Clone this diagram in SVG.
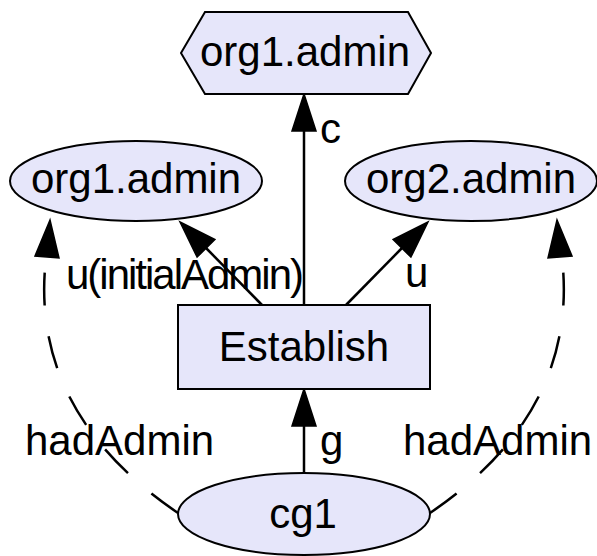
<svg xmlns="http://www.w3.org/2000/svg" width="597" height="556" viewBox="0 0 597 556">
  <style>
    .shape { fill: #e6e6fa; stroke: #000; stroke-width: 2; }
    .lbl { font-family: "Liberation Sans", Arial, Helvetica, sans-serif; font-size: 42px; fill: #000; }
    .mid { text-anchor: middle; }
    .edge { fill: none; stroke: #000; stroke-width: 2.5; }
    .dash { stroke-dasharray: 33 31; }
    .head { fill: #000; stroke: #000; stroke-width: 1.5; }
  </style>
  <rect width="597" height="556" fill="#fff"/>

  <g id="edges">
    <!-- c: Establish -> org1.admin (hexagon) -->
    <path class="edge" d="M304,305 L304,131"/>
    <polygon class="head" points="304,94 292,131 316,131"/>
    <text class="lbl" x="320" y="143">c</text>

    <!-- u(initialAdmin): Establish -> org1.admin -->
    <path class="edge" d="M262,305 L206,248"/>
    <polygon class="head" points="180,222 214.9,239.5 197.1,257.1"/>
    <text class="lbl" x="66" y="289" textLength="238" lengthAdjust="spacing">u(initialAdmin)</text>

    <!-- u: Establish -> org2.admin -->
    <path class="edge" d="M346,305 L402,248"/>
    <polygon class="head" points="428,222 393.1,239.5 410.9,257.1"/>
    <text class="lbl" x="405" y="287">u</text>

    <!-- g: cg1 -> Establish -->
    <path class="edge" d="M304,472 L304,426"/>
    <polygon class="head" points="304,389 292,426 316,426"/>
    <text class="lbl" x="320" y="455">g</text>

    <!-- hadAdmin: cg1 -> org1.admin -->
    <path class="edge dash" d="M178,513 C100,460 32,380 46,258"/>
    <polygon class="head" points="50,220 35,256 59,258"/>
    <text class="lbl" x="25" y="455">hadAdmin</text>

    <!-- hadAdmin: cg1 -> org2.admin -->
    <path class="edge dash" d="M430,513 C508,460 576,380 562,258"/>
    <polygon class="head" points="557,220 548,258 572,256"/>
    <text class="lbl" x="403" y="455">hadAdmin</text>
  </g>

  <g id="node-org1-admin-hex">
    <polygon class="shape" points="181,53 205,12 408,12 431,53 408,94 205,94"/>
    <text class="lbl mid" x="305" y="66">org1.admin</text>
  </g>

  <g id="node-org1-admin">
    <ellipse class="shape" cx="136" cy="181" rx="126" ry="40"/>
    <text class="lbl mid" x="136" y="193">org1.admin</text>
  </g>

  <g id="node-org2-admin">
    <ellipse class="shape" cx="471" cy="181" rx="126" ry="40"/>
    <text class="lbl mid" x="471" y="193">org2.admin</text>
  </g>

  <g id="node-establish">
    <rect class="shape" x="178" y="305" width="252" height="84"/>
    <text class="lbl mid" x="304" y="361">Establish</text>
  </g>

  <g id="node-cg1">
    <ellipse class="shape" cx="304" cy="514" rx="126" ry="41"/>
    <text class="lbl mid" x="303" y="528">cg1</text>
  </g>
</svg>
